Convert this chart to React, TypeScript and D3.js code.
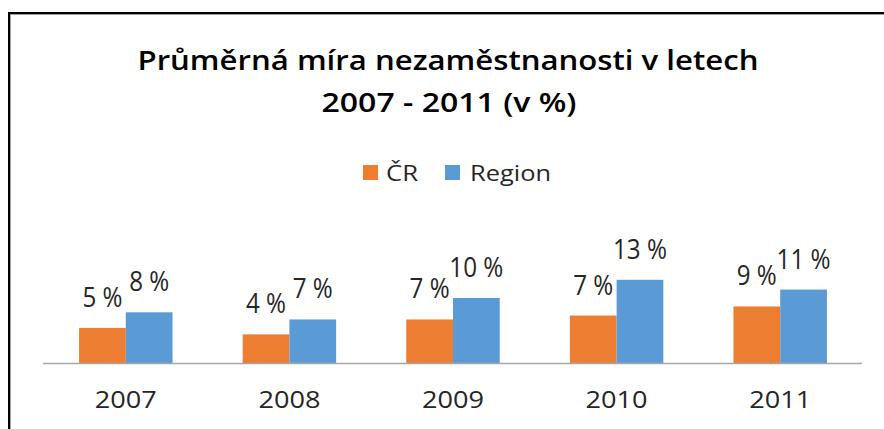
import React from "react";
import * as d3 from "d3";

const years = ["2007", "2008", "2009", "2010", "2011"];
const seriesNames = ["ČR", "Region"];
const crValues = [5.4, 4.4, 6.7, 7.3, 8.7];
const regionValues = [7.8, 6.7, 10.0, 12.8, 11.3];
const titleLines = ["Průměrná míra nezaměstnanosti v letech", "2007 - 2011 (v %)"];
const colors = ["#ED7D31", "#5B9BD5"];

const W = 884;
const H = 429;
const FONT = "'Open Sans', 'Noto Sans', sans-serif";

export default function App() {
  const x0 = d3.scaleBand<string>().domain(years).range([44, 862]).paddingInner(0.4286).paddingOuter(0.2143);
  const x1 = d3.scaleBand<string>().domain(seriesNames).range([0, x0.bandwidth()]);
  const y = d3.scaleLinear().domain([0, 14]).range([363, 272]);
  const series = [crValues, regionValues];
  const fmt = (v: number) => `${d3.format(".0f")(v)} %`;

  return (
    <svg width={W} height={H} style={{ position: "absolute", left: 0, top: 0, background: "#fff" }}>
      <rect x={0} y={0} width={W} height={H} fill="#fff" />
      <rect x={9} y={13} width={950} height={500} fill="none" stroke="#000" strokeWidth={2} />
      <rect x={10.5} y={14.5} width={950} height={500} fill="none" stroke="#a0a0a0" strokeWidth={1} />

      <text x={448} y={69.5} textAnchor="middle" fontFamily={FONT} fontWeight={600} fontSize={27} fill="#000"
        textLength={621} lengthAdjust="spacingAndGlyphs">{titleLines[0]}</text>
      <text x={449} y={111.5} textAnchor="middle" fontFamily={FONT} fontWeight={600} fontSize={27} fill="#000"
        textLength={255} lengthAdjust="spacingAndGlyphs">{titleLines[1]}</text>

      {/* legend */}
      <rect x={363} y={165} width={15} height={15} fill={colors[0]} />
      <text x={386} y={180.5} fontFamily={FONT} fontSize={22} fill="#262626" textLength={32} lengthAdjust="spacingAndGlyphs">{seriesNames[0]}</text>
      <rect x={445} y={165} width={15} height={15} fill={colors[1]} />
      <text x={470} y={180.5} fontFamily={FONT} fontSize={22} fill="#262626" textLength={81} lengthAdjust="spacingAndGlyphs">{seriesNames[1]}</text>

      {/* bars */}
      {years.map((yr, i) => (
        <g key={yr} transform={`translate(${x0(yr)},0)`}>
          {seriesNames.map((s, j) => {
            const v = series[j][i];
            const bx = x1(s)!;
            return (
              <g key={s}>
                <rect x={bx} y={y(v)} width={x1.bandwidth()} height={y(0) - y(v)} fill={colors[j]} />
                <text x={bx + x1.bandwidth() / 2} y={y(v) - 21} textAnchor="middle" fontFamily={FONT}
                  fontSize={27} fill="#262626" textLength={fmt(v).length > 3 ? 54 : 40} lengthAdjust="spacingAndGlyphs">{fmt(v)}</text>
              </g>
            );
          })}
        </g>
      ))}

      {/* axis */}
      <line x1={43} x2={862} y1={363.5} y2={363.5} stroke="#a6a6a6" strokeWidth={1.5} />
      {years.map((yr) => (
        <text key={yr} x={x0(yr)! + x0.bandwidth() / 2} y={408} textAnchor="middle" fontFamily={FONT}
          fontSize={23} fill="#262626" textLength={62} lengthAdjust="spacingAndGlyphs">{yr}</text>
      ))}
    </svg>
  );
}
